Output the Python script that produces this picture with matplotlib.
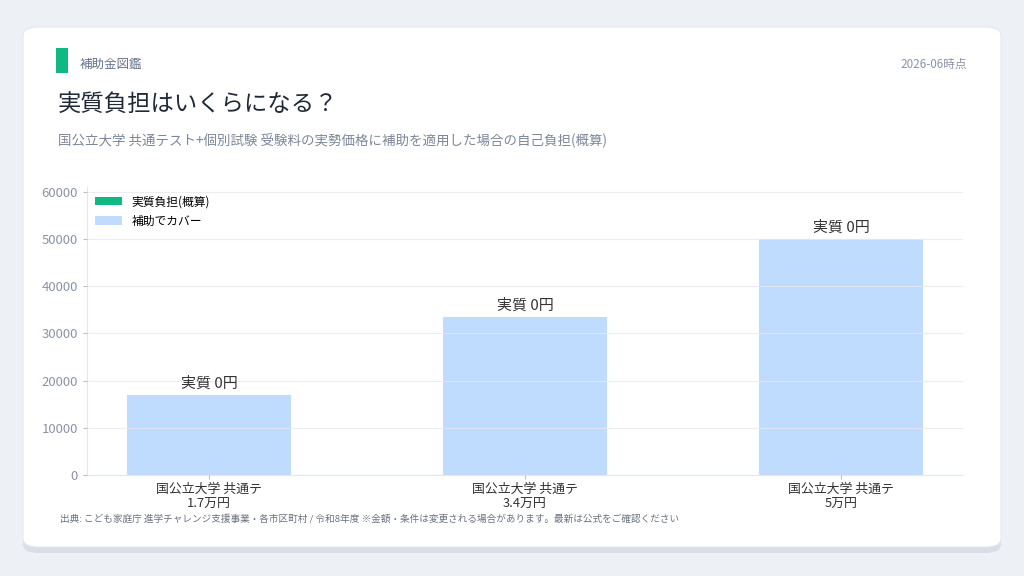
import numpy as np
import matplotlib
matplotlib.use("Agg")
import matplotlib.pyplot as plt
from matplotlib.patches import FancyBboxPatch, Rectangle

plt.rcParams['font.family'] = ['Noto Sans CJK JP', 'DejaVu Sans']

# data
categories = ["国公立大学 共通テ\n1.7万円", "国公立大学 共通テ\n3.4万円", "国公立大学 共通テ\n5万円"]
burden = [0, 0, 0]
covered = [17000, 33500, 50000]
bar_labels = ["実質 0円", "実質 0円", "実質 0円"]
yticks = [0, 10000, 20000, 30000, 40000, 50000, 60000]

fig = plt.figure(figsize=(10.24, 5.76), dpi=100)
fig.patch.set_facecolor('#edf1f6')

# card with shadow
W, H = 1024.0, 576.0
shadow = FancyBboxPatch((23/W, 23/H), 978/W, 520/H, boxstyle="round,pad=0,rounding_size=0.015",
                        transform=fig.transFigure, facecolor='#d9dee6', edgecolor='none', zorder=0)
card = FancyBboxPatch((23/W, 29/H), 978/W, 520/H, boxstyle="round,pad=0,rounding_size=0.015",
                      transform=fig.transFigure, facecolor='white', edgecolor='#e3e8ef', lw=0.8, zorder=1)
fig.patches.append(shadow)
fig.patches.append(card)
fig.patches.append(Rectangle((56/W, 1 - 73/H), 12/W, 25/H, transform=fig.transFigure,
                             facecolor='#10b981', edgecolor='none', zorder=2))

fig.text(80/W, 1 - 64/H, "補助金図鑑", fontsize=9, color='#64748b', va='center', ha='left')
fig.text(967/W, 1 - 64/H, "2026-06時点", fontsize=8.4, color='#8a94a6', va='center', ha='right')
fig.text(58/W, 1 - 105/H, "実質負担はいくらになる？", fontsize=16.8, color='#1f2937', va='center', ha='left')
fig.text(58/W, 1 - 141/H, "国公立大学 共通テスト+個別試験 受験料の実勢価格に補助を適用した場合の自己負担(概算)",
         fontsize=9.7, color='#7b8799', va='center', ha='left')
fig.text(60/W, 1 - 519/H, "出典: こども家庭庁 進学チャレンジ支援事業・各市区町村 / 令和8年度 ※金額・条件は変更される場合があります。最新は公式をご確認ください",
         fontsize=6.93, color='#6b7280', va='center', ha='left')

ax = fig.add_axes([87/W, 1 - 475/H, (963 - 87)/W, (475 - 187)/H])
ax.set_zorder(5)
ax.set_facecolor('none')
x = np.arange(len(categories))
ax.bar(x, burden, width=0.52, color='#10b981', label='実質負担(概算)', zorder=2)
ax.bar(x, covered, width=0.52, bottom=burden, color='#bfdbfe', label='補助でカバー', zorder=2)
for i in range(len(x)):
    ax.text(x[i], burden[i] + covered[i] + 900, bar_labels[i], ha='center', va='bottom',
            fontsize=10.8, color='#333333')

ax.set_ylim(0, 61000)
ax.set_yticks(yticks)
ax.set_xticks(x)
ax.set_xticklabels(categories, fontsize=9.3, color='#333333', linespacing=1.12)
ax.tick_params(axis='y', labelsize=9.5, labelcolor='#8a94a6', color='#b8c0cc', length=3)
ax.tick_params(axis='x', color='#b8c0cc', length=3, pad=3)
ax.grid(axis='y', color='#e5e9f0', lw=0.8, zorder=3, alpha=0.8)
ax.set_axisbelow(False)
for s in ['top', 'right']:
    ax.spines[s].set_visible(False)
for s in ['left', 'bottom']:
    ax.spines[s].set_color('#e2e8f0')

leg = ax.legend(loc='upper left', frameon=False, fontsize=8.5, handlelength=2.3, handleheight=0.7,
                borderaxespad=0.3, labelspacing=0.55)

fig.savefig('out.png', dpi=100, facecolor=fig.get_facecolor())
